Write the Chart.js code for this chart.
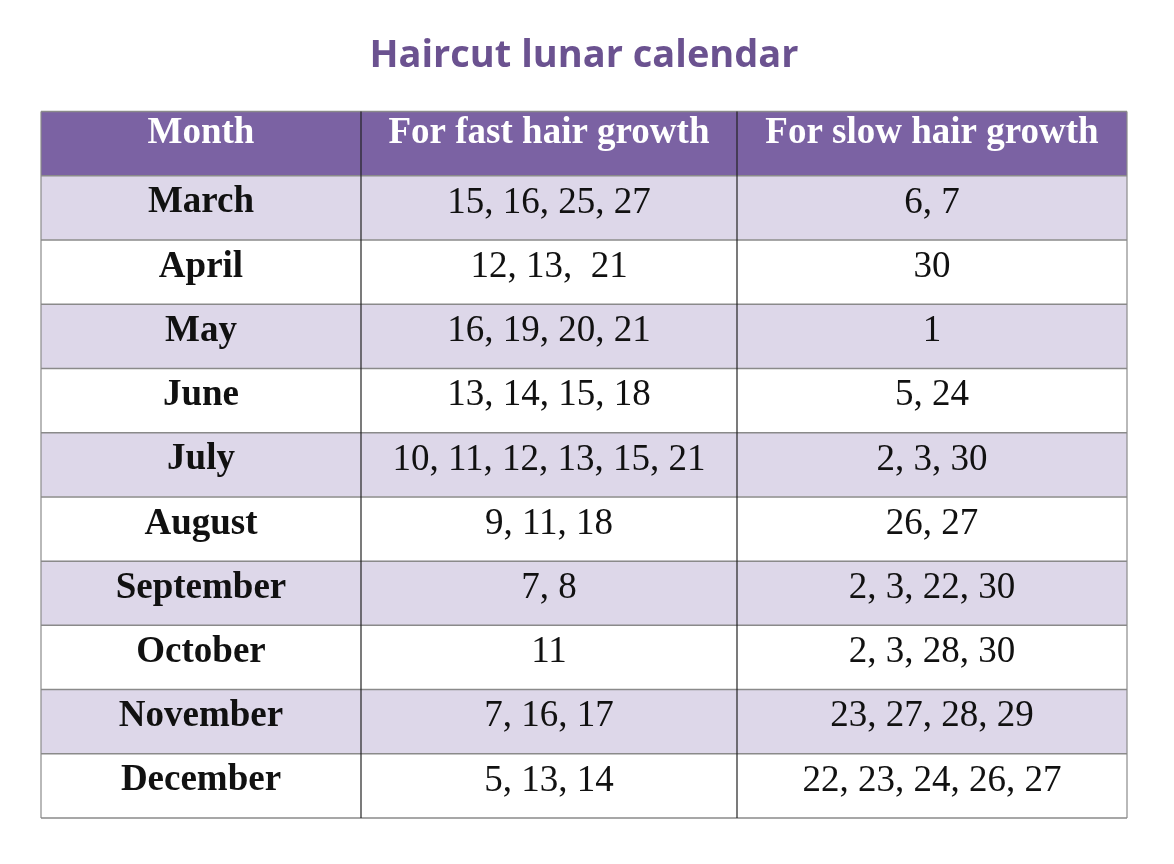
<!DOCTYPE html>
<html><head><meta charset="utf-8">
<script src="https://cdn.jsdelivr.net/npm/chart.js@4"></script>
<style>html,body{margin:0;padding:0;background:#fff}#w{width:1174px;height:864px}</style>
</head><body><div id="w"><canvas id="c"></canvas></div>
<script>
const headers = ["Month", "For fast hair growth", "For slow hair growth"];
const months = ["March","April","May","June","July","August","September","October","November","December"];
const fastDays = ["15, 16, 25, 27","12, 13,  21","16, 19, 20, 21","13, 14, 15, 18","10, 11, 12, 13, 15, 21","9, 11, 18","7, 8","11","7, 16, 17","5, 13, 14"];
const slowDays = ["6, 7","30","1","5, 24","2, 3, 30","26, 27","2, 3, 22, 30","2, 3, 28, 30","23, 27, 28, 29","22, 23, 24, 26, 27"];

const rows = ["header", ...months];
const colEdges = [0, 320, 696, 1086];
const rowColors = rows.map((r, i) => i === 0 ? "#7b62a3" : (i % 2 === 1 ? "#ddd7e9" : "#ffffff"));

const tablePlugin = {
  id: "table",
  afterDatasetsDraw(chart) {
    const ctx = chart.ctx, x = chart.scales.x, y = chart.scales.y;
    const half = (y.getPixelForValue(1) - y.getPixelForValue(0)) / 2;
    const L = x.getPixelForValue(colEdges[0]), R = x.getPixelForValue(colEdges[3]);
    const T = y.getPixelForValue(0) - half, B = y.getPixelForValue(rows.length - 1) + half;
    ctx.save();
    ctx.strokeStyle = "#8a8a8a"; ctx.lineWidth = 1.5;
    for (let i = 0; i <= rows.length; i++) {
      const yy = T + i * 2 * half;
      ctx.beginPath(); ctx.moveTo(L, yy); ctx.lineTo(R, yy); ctx.stroke();
    }
    ctx.lineWidth = 1.2;
    colEdges.forEach((e, k) => {
      const xx = x.getPixelForValue(e);
      ctx.strokeStyle = (k === 0 || k === 3) ? "#8a8a8a" : "#222";
      ctx.beginPath(); ctx.moveTo(xx, T); ctx.lineTo(xx, B); ctx.stroke();
    });
    ctx.textAlign = "center"; ctx.textBaseline = "middle";
    const cx = [0,1,2].map(k => (x.getPixelForValue(colEdges[k]) + x.getPixelForValue(colEdges[k+1])) / 2);
    const hy = y.getPixelForValue(0) - 10;
    ctx.fillStyle = "#fff"; ctx.font = "bold 37px 'Liberation Serif', serif";
    headers.forEach((h, k) => ctx.fillText(h, cx[k], hy));
    months.forEach((m, i) => {
      const yy = y.getPixelForValue(i + 1) - 5;
      ctx.fillStyle = "#111";
      ctx.font = "bold 37px 'Liberation Serif', serif";
      ctx.fillText(m, cx[0], yy);
      ctx.font = "37px 'Liberation Serif', serif";
      ctx.fillText(fastDays[i], cx[1], yy);
      ctx.fillText(slowDays[i], cx[2], yy);
    });
    ctx.restore();
  }
};

new Chart(document.getElementById("c"), {
  type: "bar",
  data: {
    labels: rows,
    datasets: [{
      data: rows.map(() => [colEdges[0], colEdges[3]]),
      backgroundColor: rowColors,
      barPercentage: 1, categoryPercentage: 1, borderWidth: 0
    }]
  },
  options: {
    indexAxis: "y", responsive: true, maintainAspectRatio: false, animation: false,
    layout: { padding: { left: 41, right: 47, top: 0, bottom: 46 } },
    scales: {
      x: { type: "linear", min: colEdges[0], max: colEdges[3], display: false },
      y: { type: "category", display: false }
    },
    plugins: {
      legend: { display: false }, tooltip: { enabled: false },
      title: { display: true, text: "Haircut lunar calendar", color: "#6b5290",
        font: { family: "'Open Sans', sans-serif", size: 38, weight: "bold" },
        padding: { top: 33, bottom: 33 } }
    }
  },
  plugins: [tablePlugin]
});
</script></body></html>
